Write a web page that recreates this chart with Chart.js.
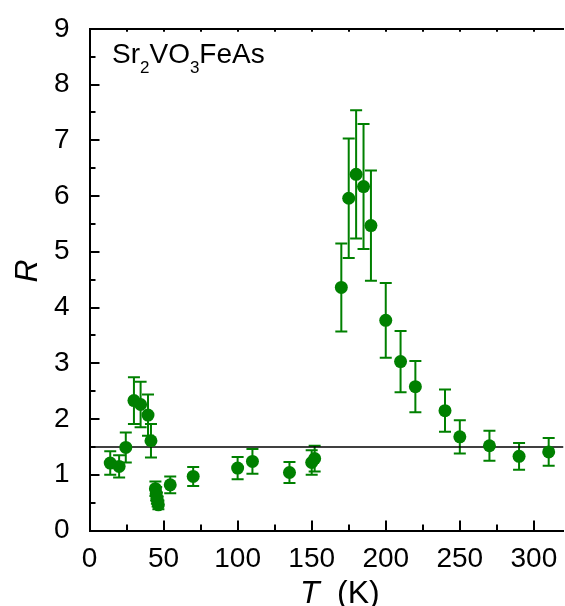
<!DOCTYPE html>
<html>
<head>
<meta charset="utf-8">
<script src="https://cdn.jsdelivr.net/npm/chart.js@4.4.1/dist/chart.umd.min.js"></script>
<style>
  html, body { margin: 0; padding: 0; background: #fff; overflow: hidden; }
  canvas { display: block; }
</style>
</head>
<body>
<canvas id="ratioChart" width="570" height="606"></canvas>
<script>
// R(T) for Sr2VO3FeAs with error bars
const tempK = [14, 20, 24.5, 30, 34.5, 39.5, 41.5, 44.5, 45, 45.5, 46, 46.5, 54.5, 70, 100, 110,
               135, 150, 152, 170, 175, 180, 185, 190, 200, 210, 220, 240, 250, 270, 290, 310];
const ratioR = [1.21, 1.15, 1.49, 2.33, 2.26, 2.07, 1.61, 0.75, 0.66, 0.58, 0.52, 0.46, 0.82, 0.97, 1.12, 1.24,
                1.04, 1.22, 1.29, 4.36, 5.96, 6.39, 6.17, 5.47, 3.77, 3.03, 2.58, 2.15, 1.68, 1.52, 1.33, 1.41];
const errR   = [0.21, 0.20, 0.27, 0.42, 0.41, 0.37, 0.30, 0.13, 0.12, 0.10, 0.09, 0.08, 0.15, 0.17, 0.20, 0.22,
                0.19, 0.22, 0.23, 0.79, 1.07, 1.15, 1.12, 0.99, 0.67, 0.55, 0.46, 0.38, 0.30, 0.27, 0.24, 0.25];
const refLevel = 1.5;

const xTicks = [0, 50, 100, 150, 200, 250, 300];
const yTicks = [0, 1, 2, 3, 4, 5, 6, 7, 8, 9];

const green = "#008000";
const font = '"Liberation Sans", Arial, sans-serif';

const errorBars = {
  id: "errorBars",
  beforeDatasetsDraw(chart) {
    const { ctx, scales: { x, y } } = chart;
    ctx.save();
    ctx.strokeStyle = green;
    ctx.lineWidth = 2;
    tempK.forEach((t, i) => {
      const px = x.getPixelForValue(t);
      const top = y.getPixelForValue(ratioR[i] + errR[i]);
      const bot = y.getPixelForValue(ratioR[i] - errR[i]);
      ctx.beginPath();
      ctx.moveTo(px, top); ctx.lineTo(px, bot);
      ctx.moveTo(px - 6, top); ctx.lineTo(px + 6, top);
      ctx.moveTo(px - 6, bot); ctx.lineTo(px + 6, bot);
      ctx.stroke();
    });
    ctx.restore();
  }
};

// tick marks point into the plot, with minor ticks halfway between labels
const inwardTicks = {
  id: "inwardTicks",
  afterDraw(chart) {
    const { ctx, chartArea: a, scales: { x, y } } = chart;
    ctx.save();
    ctx.strokeStyle = "#000";
    ctx.lineWidth = 2;
    ctx.beginPath();
    xTicks.forEach(v => {
      [v, v + 25].forEach((t, k) => {
        if (t > 320) return;
        const px = Math.round(x.getPixelForValue(t));
        const len = k === 0 ? 10 : 6;
        ctx.moveTo(px, a.bottom); ctx.lineTo(px, a.bottom - len);
        ctx.moveTo(px, a.top); ctx.lineTo(px, a.top + 3);
      });
    });
    yTicks.forEach(v => {
      [v, v + 0.5].forEach((r, k) => {
        if (r > 9) return;
        const py = Math.round(y.getPixelForValue(r));
        const len = k === 0 ? 10 : 6;
        ctx.moveTo(a.left, py); ctx.lineTo(a.left + len, py);
      });
    });
    ctx.stroke();

    // axis titles
    ctx.fillStyle = "#000";
    ctx.textBaseline = "alphabetic";
    ctx.font = "italic 32px " + font;
    ctx.fillText("T", 300, 603);
    ctx.font = "32px " + font;
    ctx.fillText("(K)", 337, 603);

    ctx.save();
    ctx.translate(37, 271);
    ctx.rotate(-Math.PI / 2);
    ctx.font = "italic 32px " + font;
    ctx.textAlign = "center";
    ctx.fillText("R", 0, 0);
    ctx.restore();

    // compound name with subscripts
    const parts = [["Sr", false], ["2", true], ["VO", false], ["3", true], ["FeAs", false]];
    let cx = 112;
    parts.forEach(([s, sub]) => {
      ctx.font = (sub ? "17px " : "28px ") + font;
      ctx.fillText(s, cx, sub ? 73 : 63);
      cx += ctx.measureText(s).width;
    });
    ctx.restore();
  }
};

new Chart(document.getElementById("ratioChart"), {
  type: "scatter",
  data: {
    datasets: [{
      data: tempK.map((t, i) => ({ x: t, y: ratioR[i] })),
      backgroundColor: green,
      borderWidth: 0,
      pointRadius: 6.5,
      pointHoverRadius: 6.5
    }, {
      data: [{ x: 0, y: refLevel }, { x: 320, y: refLevel }],
      showLine: true,
      borderColor: "#000",
      borderWidth: 1.5,
      pointRadius: 0
    }]
  },
  options: {
    responsive: false,
    animation: false,
    devicePixelRatio: 1,
    layout: { padding: { top: 24, right: 4, left: 0, bottom: 0 } },
    plugins: { legend: { display: false }, tooltip: { enabled: false } },
    scales: {
      x: {
        type: "linear", position: "bottom", min: 0, max: 320,
        afterBuildTicks: s => { s.ticks = xTicks.map(v => ({ value: v })); },
        afterFit: s => { s.height = 75.5; },
        grid: { display: false },
        border: { display: true, color: "#000", width: 2 },
        ticks: { color: "#000", font: { family: font, size: 28 }, padding: 4, maxRotation: 0 }
      },
      x2: {
        type: "linear", position: "top", min: 0, max: 320,
        afterFit: s => { s.height = 0; },
        grid: { display: false },
        border: { display: true, color: "#000", width: 2 },
        ticks: { display: false }
      },
      y: {
        type: "linear", min: 0, max: 9,
        afterBuildTicks: s => { s.ticks = yTicks.map(v => ({ value: v })); },
        afterFit: s => { s.width = 89.5; },
        grid: { display: false },
        border: { display: true, color: "#000", width: 2 },
        ticks: { color: "#000", font: { family: font, size: 28 }, padding: 12 }
      }
    }
  },
  plugins: [errorBars, inwardTicks]
});
</script>
</body>
</html>
